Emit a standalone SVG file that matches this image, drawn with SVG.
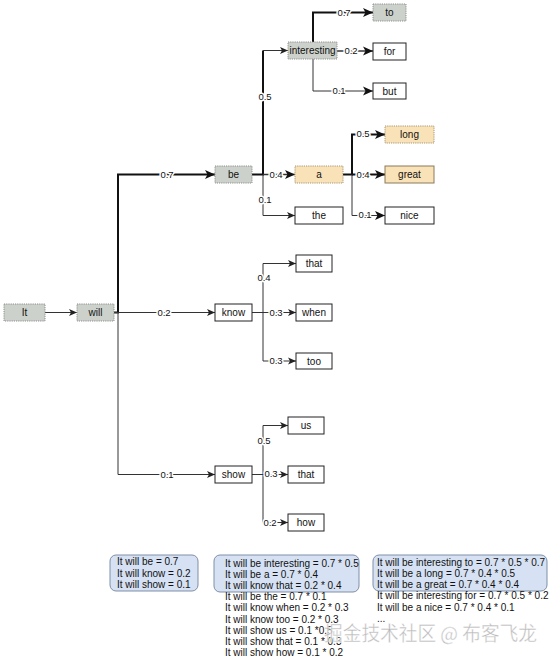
<svg xmlns="http://www.w3.org/2000/svg" width="555" height="661" viewBox="0 0 555 661">
<defs>
<marker id="at" markerUnits="userSpaceOnUse" markerWidth="9" markerHeight="8" refX="8" refY="4" orient="auto"><path d="M0,0.6 L8,4 L0,7.4 L2,4 Z" fill="#222"/></marker>
<marker id="ak" markerUnits="userSpaceOnUse" markerWidth="11" markerHeight="10" refX="10" refY="5" orient="auto"><path d="M0,0.5 L10,5 L0,9.5 L2.5,5 Z" fill="#111"/></marker>
</defs>
<style>
.n rect{stroke-width:1}
.g rect{fill:#cdd1cc;stroke:#8a8f8a;stroke-dasharray:1.2 1}
.o rect{fill:#f9e2b8;stroke:#a89670;stroke-dasharray:1.2 1}
.w rect{fill:#fff;stroke:#222}
.n text{font-family:"Liberation Sans",Arial,sans-serif;font-size:10px;fill:#111;text-anchor:middle}
.t{fill:none;stroke:#333;stroke-width:1}
.k{fill:none;stroke:#111;stroke-width:2}
.lb{font-family:"Liberation Sans",Arial,sans-serif;font-size:9.5px;fill:#111;text-anchor:middle;stroke:#fff;stroke-width:3;paint-order:stroke;stroke-linejoin:round}
.bx{fill:#d6e2f3;stroke:#7f8fa8;stroke-width:1}
.bt{font-family:"Liberation Sans",Arial,sans-serif;font-size:10px;fill:#111}
</style>
<g id="connectors">
<path class="t" d="M45,312.5 H77" marker-end="url(#at)"/>
<path class="k" d="M114,312.5 H118 V174.5 H215" marker-end="url(#ak)"/>
<path class="t" d="M114,312.5 H215" marker-end="url(#at)"/>
<path class="t" d="M118,312.5 V474.5 H215" marker-end="url(#at)"/>
<path class="k" d="M252,174.5 H263 V50.5"/>
<path class="t" d="M263,50.5 H288" marker-end="url(#at)"/>
<path class="t" style="stroke-width:1.5" d="M263,174.5 H295" marker-end="url(#ak)"/>
<path class="t" d="M263,174.5 V215.5 H295" marker-end="url(#at)"/>
<path class="k" d="M313,42 V12.5 H373" marker-end="url(#ak)"/>
<path class="t" style="stroke-width:1.3" d="M337,51 H373" marker-end="url(#ak)"/>
<path class="t" d="M313,59 V91 H373" marker-end="url(#ak)"/>
<path class="k" d="M343,174.5 H352 V134.5 H385" marker-end="url(#ak)"/>
<path class="k" d="M352,174.5 H385" marker-end="url(#ak)"/>
<path class="t" d="M352,174.5 V215.5 H385" marker-end="url(#ak)"/>
<path class="t" d="M252,312.5 H263 V263.5 H296" marker-end="url(#at)"/>
<path class="t" d="M263,312.5 H296" marker-end="url(#at)"/>
<path class="t" d="M263,312.5 V361 H296" marker-end="url(#at)"/>
<path class="t" d="M252,474.5 H263 V425.5 H288" marker-end="url(#at)"/>
<path class="t" d="M263,474.5 H288" marker-end="url(#at)"/>
<path class="t" d="M263,474.5 V522.5 H288" marker-end="url(#at)"/>
<text class="lb" x="167" y="178">0.7</text>
<text class="lb" x="164" y="316">0.2</text>
<text class="lb" x="167" y="478">0.1</text>
<text class="lb" x="265" y="100">0.5</text>
<text class="lb" x="276" y="178">0.4</text>
<text class="lb" x="265" y="203">0.1</text>
<text class="lb" x="344" y="16">0.7</text>
<text class="lb" x="351" y="54">0.2</text>
<text class="lb" x="339" y="94">0.1</text>
<text class="lb" x="363" y="137">0.5</text>
<text class="lb" x="363" y="178">0.4</text>
<text class="lb" x="365" y="218">0.1</text>
<text class="lb" x="264" y="281">0.4</text>
<text class="lb" x="276" y="316">0.3</text>
<text class="lb" x="276" y="364">0.3</text>
<text class="lb" x="264" y="444">0.5</text>
<text class="lb" x="271" y="477">0.3</text>
<text class="lb" x="270" y="526">0.2</text>
</g>
<g id="n-it" class="n g"><rect x="4" y="304" width="41" height="17"/><text x="24.5" y="316">It</text></g>
<g id="n-will" class="n g"><rect x="77" y="304" width="37" height="17"/><text x="95.5" y="316">will</text></g>
<g id="n-be" class="n g"><rect x="215" y="166" width="37" height="17"/><text x="233.5" y="178">be</text></g>
<g id="n-know" class="n w"><rect x="215" y="304" width="37" height="17"/><text x="233.5" y="316">know</text></g>
<g id="n-show" class="n w"><rect x="215" y="466" width="37" height="17"/><text x="233.5" y="478">show</text></g>
<g id="n-interesting" class="n g"><rect x="288" y="42" width="49" height="17"/><text x="312.5" y="54">interesting</text></g>
<g id="n-to" class="n g"><rect x="373" y="4" width="33" height="17"/><text x="389.5" y="16">to</text></g>
<g id="n-for" class="n w"><rect x="373" y="43" width="33" height="17"/><text x="389.5" y="55">for</text></g>
<g id="n-but" class="n w"><rect x="373" y="83" width="33" height="16"/><text x="389.5" y="94.5">but</text></g>
<g id="n-a" class="n o"><rect x="295" y="166" width="48" height="17"/><text x="319" y="178">a</text></g>
<g id="n-the" class="n w"><rect x="295" y="207" width="48" height="17"/><text x="319" y="219">the</text></g>
<g id="n-long" class="n o"><rect x="385" y="126" width="49" height="17"/><text x="409.5" y="138">long</text></g>
<g id="n-great" class="n o"><rect x="385" y="166" width="49" height="17" style="stroke:#8a7a5a;stroke-dasharray:none"/><text x="409.5" y="178">great</text></g>
<g id="n-nice" class="n w"><rect x="385" y="207" width="49" height="17"/><text x="409.5" y="219">nice</text></g>
<g id="n-know-that" class="n w"><rect x="296" y="255" width="36" height="17"/><text x="314" y="267">that</text></g>
<g id="n-when" class="n w"><rect x="296" y="304" width="36" height="17"/><text x="314" y="316">when</text></g>
<g id="n-too" class="n w"><rect x="296" y="353" width="36" height="16"/><text x="314" y="364.5">too</text></g>
<g id="n-us" class="n w"><rect x="288" y="417" width="36" height="17"/><text x="306" y="429">us</text></g>
<g id="n-show-that" class="n w"><rect x="288" y="466" width="36" height="17"/><text x="306" y="478">that</text></g>
<g id="n-how" class="n w"><rect x="288" y="514" width="36" height="17"/><text x="306" y="526">how</text></g>
<g id="box1">
<rect class="bx" x="110" y="555" width="88" height="36" rx="6"/>
<text class="bt" x="117" y="565">It will be = 0.7</text>
<text class="bt" x="117" y="576.5">It will know = 0.2</text>
<text class="bt" x="117" y="588">It will show = 0.1</text>
</g>
<g id="box2">
<rect class="bx" x="214" y="555" width="145" height="37" rx="6"/>
<text class="bt" x="225" y="566.5">It will be interesting = 0.7 * 0.5</text>
<text class="bt" x="225" y="577.7">It will be a = 0.7 * 0.4</text>
<text class="bt" x="225" y="588.9">It will know that = 0.2 * 0.4</text>
<text class="bt" x="225" y="600.1">It will be the = 0.7 * 0.1</text>
<text class="bt" x="225" y="611.3">It will know when = 0.2 * 0.3</text>
<text class="bt" x="225" y="622.5">It will know too = 0.2 * 0.3</text>
<text class="bt" x="225" y="633.7">It will show us = 0.1 *0.5</text>
<text class="bt" x="225" y="644.9">It will show that = 0.1 * 0.3</text>
<text class="bt" x="225" y="656.1">It will show how = 0.1 * 0.2</text>
</g>
<g id="box3">
<rect class="bx" x="373" y="555" width="174" height="36" rx="6"/>
<text class="bt" x="377" y="565.5">It will be interesting to = 0.7 * 0.5 * 0.7</text>
<text class="bt" x="377" y="576.8">It will be a long = 0.7 * 0.4 * 0.5</text>
<text class="bt" x="377" y="588.1">It will be a great = 0.7 * 0.4 * 0.4</text>
<text class="bt" x="377" y="599.4">It will be interesting for = 0.7 * 0.5 * 0.2</text>
<text class="bt" x="377" y="610.7">It will be a nice = 0.7 * 0.4 * 0.1</text>
<text class="bt" x="377" y="622">...</text>
</g>
<text id="watermark" x="324" y="641" textLength="213" lengthAdjust="spacingAndGlyphs" font-family="'Noto Sans CJK SC',sans-serif" font-size="20" fill="#a5a5a5" fill-opacity="0.9" stroke="#fff" stroke-width="0.8" stroke-opacity="0.7">掘金技术社区 @ 布客飞龙</text>
</svg>
